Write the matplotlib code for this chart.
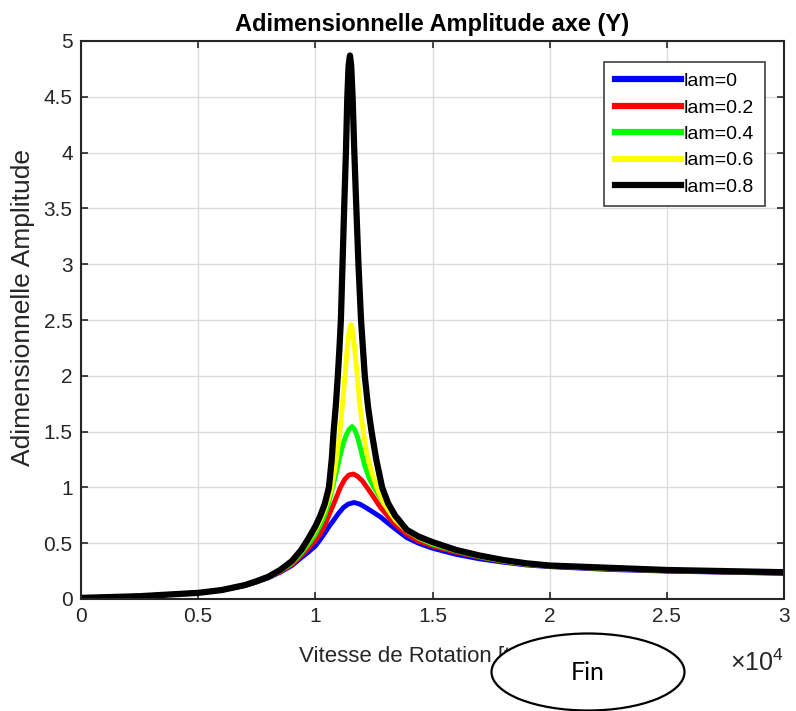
import matplotlib
matplotlib.use("Agg")
from matplotlib import pyplot as plt
from matplotlib.patches import Ellipse

plt.rcParams['font.family'] = ['Liberation Sans', 'DejaVu Sans']
plt.rcParams['mathtext.fontset'] = 'custom'
plt.rcParams['mathtext.rm'] = 'Liberation Sans'

# values (speed in tr/min, amplitude)
x_lam0 = [0, 2500, 5000, 6000, 7000, 7500, 8000, 8500, 9000, 9400, 9700, 10000, 10200,
          10400, 10600, 10780, 11000, 11200, 11400, 11650, 11900, 12150, 12450, 12780,
          13100, 13400, 13900, 14400, 15000, 16000, 17000, 18000, 19000, 20000, 22500,
          25000, 27500, 30000]
y_lam0 = [0.01, 0.025, 0.055, 0.08, 0.122, 0.153, 0.19, 0.24, 0.30, 0.37, 0.42, 0.475, 0.53,
          0.59, 0.655, 0.705, 0.77, 0.82, 0.85, 0.865, 0.85, 0.82, 0.78, 0.735,
          0.68, 0.63, 0.55, 0.50, 0.455, 0.40, 0.36, 0.33, 0.305, 0.29, 0.265,
          0.25, 0.24, 0.23]

x_lam02 = [0, 2500, 5000, 6000, 7000, 7500, 8000, 8500, 9000, 9400, 9700, 10000, 10200,
           10400, 10600, 10800, 11068, 11250, 11420, 11620, 11800, 12000, 12203, 12500,
           12780, 13100, 13400, 13900, 14400, 15000, 16000, 17000, 18000, 19000, 20000,
           22500, 25000, 27500, 30000]
y_lam02 = [0.01, 0.025, 0.055, 0.08, 0.123, 0.155, 0.193, 0.245, 0.31, 0.39, 0.455, 0.525, 0.58,
           0.66, 0.76, 0.86, 1.0, 1.07, 1.11, 1.12, 1.10, 1.06, 1.0, 0.91,
           0.82, 0.74, 0.67, 0.58, 0.52, 0.475, 0.42, 0.375, 0.337, 0.31, 0.293,
           0.27, 0.252, 0.242, 0.232]

x_lam04 = [0, 2500, 5000, 6000, 7000, 7500, 8000, 8500, 9000, 9400, 9700, 10000, 10200,
           10400, 10580, 10740, 10900, 11050, 11200, 11320, 11440, 11570, 11680, 11800,
           11950, 12100, 12300, 12500, 12800, 13100, 13400, 13900, 14400, 15000, 16000,
           17000, 18000, 19000, 20000, 22500, 25000, 27500, 30000]
y_lam04 = [0.01, 0.025, 0.055, 0.08, 0.124, 0.156, 0.195, 0.25, 0.32, 0.41, 0.49, 0.58, 0.66,
           0.75, 0.87, 1.0, 1.14, 1.28, 1.40, 1.47, 1.52, 1.545, 1.52, 1.45,
           1.33, 1.20, 1.08, 1.0, 0.90, 0.80, 0.72, 0.61, 0.545, 0.49, 0.43,
           0.38, 0.34, 0.312, 0.295, 0.272, 0.255, 0.245, 0.235]

x_lam06 = [0, 2500, 5000, 6000, 7000, 7500, 8000, 8500, 9000, 9400, 9700, 10000, 10200,
           10400, 10550, 10700, 10850, 10950, 11050, 11150, 11265, 11350, 11430, 11520,
           11600, 11680, 11790, 11900, 12045, 12200, 12400, 12620, 12850, 13100, 13400,
           13900, 14400, 15000, 16000, 17000, 18000, 19000, 20000, 22500, 25000, 27500,
           30000]
y_lam06 = [0.01, 0.025, 0.055, 0.08, 0.125, 0.158, 0.198, 0.255, 0.33, 0.43, 0.52, 0.62, 0.70,
           0.80, 0.89, 1.0, 1.18, 1.33, 1.5, 1.72, 2.0, 2.22, 2.38, 2.46,
           2.40, 2.24, 2.0, 1.74, 1.5, 1.30, 1.14, 1.0, 0.89, 0.80, 0.71,
           0.61, 0.55, 0.50, 0.435, 0.385, 0.345, 0.315, 0.30, 0.275, 0.26, 0.25,
           0.24]

x_lam08 = [0, 2500, 5000, 6000, 7000, 7500, 8000, 8500, 9000, 9400, 9700, 10000, 10200,
           10400, 10580, 10700, 10780, 10880, 10960, 11030, 11090, 11160, 11230, 11305,
           11365, 11420, 11478, 11530, 11590, 11665, 11750, 11840, 11950, 12110, 12250,
           12400, 12600, 12850, 13100, 13400, 13900, 14400, 15000, 16000, 17000, 18000,
           19000, 20000, 22500, 25000, 27500, 30000]
y_lam08 = [0.01, 0.025, 0.055, 0.08, 0.125, 0.16, 0.20, 0.26, 0.34, 0.44, 0.54, 0.65, 0.74,
           0.85, 1.0, 1.25, 1.5, 1.75, 2.0, 2.25, 2.5, 3.0, 3.5, 4.0,
           4.5, 4.78, 4.87, 4.78, 4.5, 4.0, 3.5, 3.0, 2.5, 2.0, 1.72,
           1.5, 1.25, 1.0, 0.86, 0.75, 0.62, 0.56, 0.51, 0.44, 0.39, 0.35,
           0.32, 0.30, 0.28, 0.26, 0.25, 0.24]

series = [
    ('lam=0', x_lam0, y_lam0, (0, 0, 1), 3.5),
    ('lam=0.2', x_lam02, y_lam02, (1, 0, 0), 3.5),
    ('lam=0.4', x_lam04, y_lam04, (0, 1, 0), 3.5),
    ('lam=0.6', x_lam06, y_lam06, (1, 1, 0), 3.5),
    ('lam=0.8', x_lam08, y_lam08, (0, 0, 0), 4.5),
]

x_ticks = [0, 5000, 10000, 15000, 20000, 25000, 30000]
x_tick_labels = ['0', '0.5', '1', '1.5', '2', '2.5', '3']
y_ticks = [0, 0.5, 1, 1.5, 2, 2.5, 3, 3.5, 4, 4.5, 5]
y_tick_labels = ['0', '0.5', '1', '1.5', '2', '2.5', '3', '3.5', '4', '4.5', '5']

W, H = 796, 711
fig = plt.figure(figsize=(W / 100, H / 100), dpi=100)
ax = fig.add_axes([81 / W, 1 - 599 / H, (784 - 81) / W, (599 - 41) / H])

for label, xs, ys, col, lw in series:
    ax.plot(xs, ys, color=col, lw=lw, label=label, solid_joinstyle='round')

ax.set_xlim(0, 30000)
ax.set_ylim(0, 5)
ax.set_xticks(x_ticks)
ax.set_xticklabels(x_tick_labels)
ax.set_yticks(y_ticks)
ax.set_yticklabels(y_tick_labels)
ax.grid(True, color='#dcdcdc', lw=1.0)
ax.set_axisbelow(True)

dark = '#262626'
for sp in ax.spines.values():
    sp.set_color(dark)
    sp.set_linewidth(1.5)
ax.tick_params(direction='in', length=5, width=1.2, colors=dark, labelsize=15,
               top=True, right=True, pad=6)

ax.set_title('Adimensionnelle Amplitude axe (Y)', fontsize=17, fontweight='bold', pad=7)
ax.set_xlabel('Vitesse de Rotation [tr/min]', fontsize=16, color=dark, labelpad=14)
ax.set_ylabel('Adimensionnelle Amplitude', fontsize=19, color=dark)
ax.yaxis.set_label_coords(-0.066, 0.523)

ax.text(1.0, -0.09, r'$\times\mathregular{10^{4}}$', transform=ax.transAxes,
        ha='right', va='top', fontsize=18, color=dark)

leg = ax.legend(loc='upper right', bbox_to_anchor=(765 / W, 1 - 62 / H),
                bbox_transform=fig.transFigure, borderaxespad=0, fontsize=14,
                handlelength=3.4, handletextpad=0.15, labelspacing=0.45,
                fancybox=False, framealpha=1, borderpad=0.55)
leg.get_frame().set_edgecolor('#404040')
leg.get_frame().set_linewidth(1.2)
for h in leg.get_lines():
    h.set_linewidth(4.5)

# the "Fin" bubble sitting over the x label
ell = Ellipse((588 / W, 1 - 672 / H), 193 / W, 77 / H, transform=fig.transFigure,
              facecolor='white', edgecolor='black', lw=1.6, zorder=10)
fig.add_artist(ell)
fig.text(588 / W, 1 - 672 / H, 'Fin', ha='center', va='center', fontsize=18,
         family='Lato', zorder=11)

fig.savefig('out.png', dpi=100)
